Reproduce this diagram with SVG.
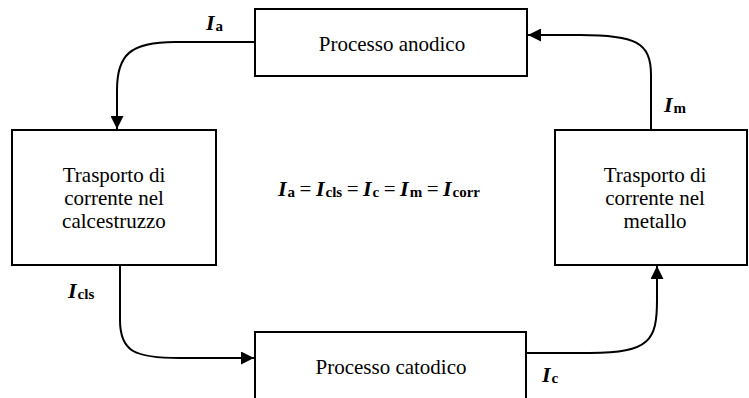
<svg xmlns="http://www.w3.org/2000/svg" width="749" height="398" viewBox="0 0 749 398">
<style>
.box{fill:#fff;stroke:#000;stroke-width:2}
.t{font-family:"Liberation Serif","Times New Roman",serif;font-size:21px;fill:#000;text-anchor:middle}
.c{fill:none;stroke:#000;stroke-width:2;marker-end:url(#ar)}
.l{font-family:"Liberation Serif","Times New Roman",serif;fill:#000}
.I{font-style:italic;font-weight:bold;font-size:22px}
.s{font-weight:bold;font-size:15px}
.eq{font-size:21px}
</style>
<defs>
<marker id="ar" viewBox="0 0 10 10" refX="10" refY="5" markerWidth="14" markerHeight="13" markerUnits="userSpaceOnUse" orient="auto">
<path d="M0,0 L10,5 L0,10 Z" fill="#000"/>
</marker>
</defs>
<rect width="749" height="398" fill="#fff"/>
<g id="connectors">
<path class="c" d="M255,42 L175,42 C130,42 117,55 117,90 L117,129"/>
<path class="c" d="M651,130 L651,75 C651,42 635,35 580,35 L528,35"/>
<path class="c" d="M120,265 L120,320 C120,352 135,358 180,358 L254,358"/>
<path class="c" d="M527,353 L590,353 C650,353 657,340 657,300 L657,266"/>
</g>
<g id="anodico">
<rect class="box" x="255" y="9" width="272" height="67"/>
<text class="t" x="392" y="51">Processo anodico</text>
</g>
<g id="calcestruzzo">
<rect class="box" x="12" y="130" width="204" height="135"/>
<text class="t" x="114" y="182">Trasporto di</text>
<text class="t" x="114" y="205">corrente nel</text>
<text class="t" x="114" y="228">calcestruzzo</text>
</g>
<g id="metallo">
<rect class="box" x="555" y="130" width="192" height="135"/>
<text class="t" x="655" y="182">Trasporto di</text>
<text class="t" x="655" y="205">corrente nel</text>
<text class="t" x="655" y="228">metallo</text>
</g>
<g id="catodico">
<rect class="box" x="255" y="332" width="271" height="80"/>
<text class="t" x="391" y="374">Processo catodico</text>
</g>
<g id="labels">
<text class="l" x="206" y="30"><tspan class="I">I</tspan><tspan class="s" dx="1" dy="1">a</tspan></text>
<text class="l" x="664" y="112"><tspan class="I">I</tspan><tspan class="s" dx="1" dy="1">m</tspan></text>
<text class="l" x="68" y="298"><tspan class="I">I</tspan><tspan class="s" dx="1" dy="1">cls</tspan></text>
<text class="l" x="542" y="382"><tspan class="I">I</tspan><tspan class="s" dx="1" dy="1">c</tspan></text>
<text class="l" x="278" y="196"><tspan class="I">I</tspan><tspan class="s" dx="1" dy="1">a</tspan><tspan class="eq" dx="4.5" dy="-1">=</tspan><tspan class="I" dx="4.5">I</tspan><tspan class="s" dx="1" dy="1">cls</tspan><tspan class="eq" dx="4.5" dy="-1">=</tspan><tspan class="I" dx="4.5">I</tspan><tspan class="s" dx="1" dy="1">c</tspan><tspan class="eq" dx="4.5" dy="-1">=</tspan><tspan class="I" dx="4.5">I</tspan><tspan class="s" dx="1" dy="1">m</tspan><tspan class="eq" dx="4.5" dy="-1">=</tspan><tspan class="I" dx="4.5">I</tspan><tspan class="s" dx="1" dy="1">corr</tspan></text>
</g>
</svg>
